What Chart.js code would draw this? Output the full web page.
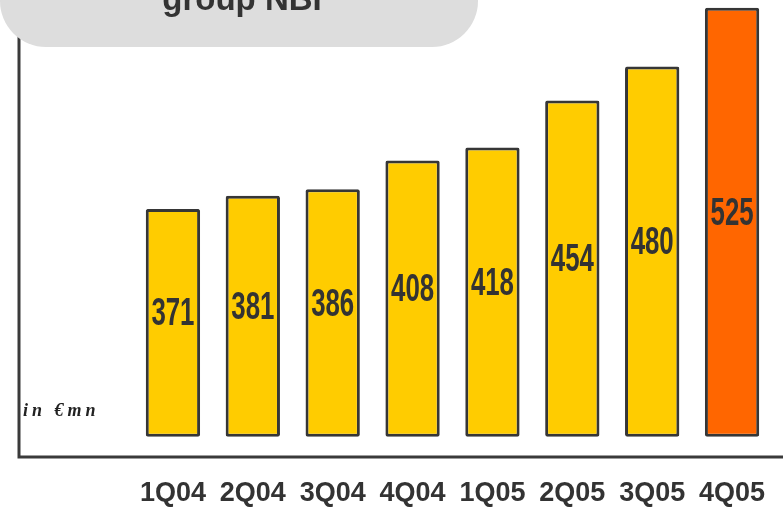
<!DOCTYPE html>
<html><head><meta charset="utf-8">
<script src="https://cdn.jsdelivr.net/npm/chart.js@4"></script>
<style>html,body{margin:0;padding:0;background:#fff}#wrap{width:783px;height:507px}</style>
</head><body><div id="wrap"><canvas id="c" width="783" height="507"></canvas></div>
<script>
const categories = ["1Q04","2Q04","3Q04","4Q04","1Q05","2Q05","3Q05","4Q05"];
const nbiValues = [371,381,386,408,418,454,480,525];
const barColors = ["#FFCC00","#FFCC00","#FFCC00","#FFCC00","#FFCC00","#FFCC00","#FFCC00","#FF6600"];
const titleText = "group NBI";
const unitText = "in €mn";

const sans = '"Liberation Sans",Arial,sans-serif';

const decor = {
  id:'decor',
  beforeDatasetsDraw(chart){
    const ctx = chart.ctx, area = chart.chartArea;
    ctx.save();
    ctx.strokeStyle = '#3a3a3a';
    ctx.lineWidth = 3;
    ctx.beginPath();
    ctx.moveTo(19, 0);
    ctx.lineTo(19, area.bottom);
    ctx.lineTo(783, area.bottom);
    ctx.stroke();
    ctx.fillStyle = '#222';
    ctx.font = 'italic bold 18px "Liberation Serif","DejaVu Serif",serif';
    ctx.textBaseline = 'middle';
    ctx.letterSpacing = '4px';
    ctx.fillText(unitText, 23, 411);
    ctx.restore();
  },
  afterDatasetsDraw(chart){
    const ctx = chart.ctx;
    const meta = chart.getDatasetMeta(0);
    ctx.save();
    ctx.fillStyle = '#333';
    ctx.font = 'bold 38px ' + sans;
    ctx.textAlign = 'center';
    ctx.textBaseline = 'middle';
    meta.data.forEach((bar, i) => {
      const p = bar.getProps(['x','y','base'], true);
      ctx.save();
      ctx.translate(p.x, (p.y + p.base) / 2 - 8);
      ctx.scale(0.68, 1);
      ctx.fillText(String(nbiValues[i]), 0, 0);
      ctx.restore();
    });
    // title box
    ctx.fillStyle = '#DDDDDD';
    const r = 46, w = 478, h = 47;
    ctx.beginPath();
    ctx.moveTo(0, 0);
    ctx.lineTo(w, 0);
    ctx.lineTo(w, h - r);
    ctx.arcTo(w, h, w - r, h, r);
    ctx.lineTo(r, h);
    ctx.arcTo(0, h, 0, h - r, r);
    ctx.closePath();
    ctx.fill();
    ctx.fillStyle = '#333';
    ctx.font = 'bold 33px ' + sans;
    ctx.textAlign = 'center';
    ctx.textBaseline = 'alphabetic';
    ctx.fillText(titleText, 242, 10);
    ctx.restore();
  }
};

new Chart(document.getElementById('c'), {
  type: 'bar',
  data: {
    labels: categories,
    datasets: [{
      data: nbiValues,
      base: 196.5,
      backgroundColor: barColors,
      borderColor: '#363636',
      borderWidth: 3,
      borderSkipped: false,
      borderRadius: 2,
      barPercentage: 0.68,
      categoryPercentage: 1.0
    }]
  },
  options: {
    responsive: false,
    animation: false,
    devicePixelRatio: 1,
    layout: { padding: { left: 133, right: 11, top: 0, bottom: 0 } },
    plugins: { legend: { display: false }, tooltip: { enabled: false }, title: { display: false } },
    scales: {
      x: {
        grid: { display: false, drawTicks: false },
        border: { display: false },
        ticks: { color: '#333', font: { family: sans, size: 27, weight: 'bold' }, padding: 20, maxRotation: 0 },
        afterFit(scale){ scale.height = 50; scale.paddingLeft = 0; scale.paddingRight = 0; }
      },
      y: {
        display: false,
        min: 181,
        max: 531
      }
    }
  },
  plugins: [decor]
});
</script>
</body></html>
